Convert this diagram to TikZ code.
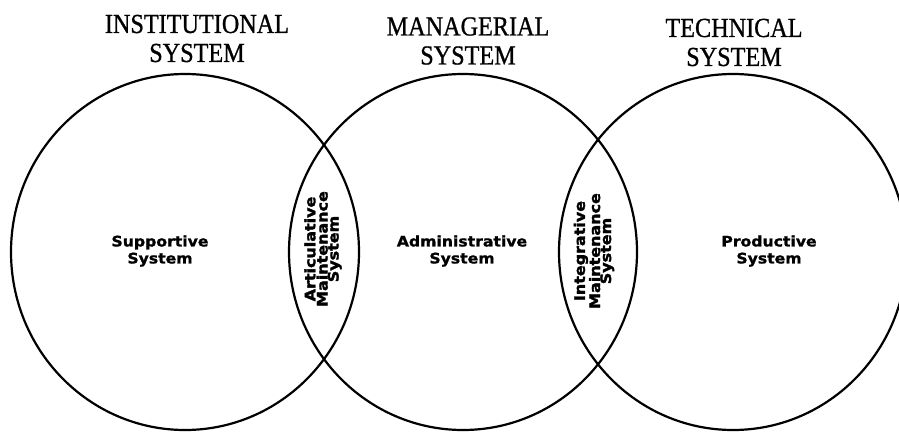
\documentclass[tikz,border=0pt]{standalone}
\usepackage{fontspec}
\setmainfont{Liberation Serif}
\newfontfamily\titlefont[FakeStretch=0.88,FakeBold=0.8]{Liberation Serif}
\newfontfamily\areafont[FakeStretch=1.08,FakeBold=1.2]{DejaVu Sans}
\newfontfamily\lensfont[FakeStretch=1.1,FakeBold=2]{DejaVu Sans}
\begin{document}
\begin{tikzpicture}
[x=1pt,y=-1pt,
ring/.style={line width=2.2pt},
title/.style={font=\titlefont\fontsize{27.5}{29}\selectfont,align=center,inner sep=0pt},
area/.style={font=\areafont\bfseries\fontsize{14.5}{17}\selectfont,align=center,inner sep=0pt},
lens/.style={font=\lensfont\bfseries\fontsize{14.5}{11}\selectfont,align=center,inner sep=0pt,rotate=90}]
\useasboundingbox (0,0) rectangle (899,434);
\foreach \x in {185,463,733}
{
	\draw[ring] (\x,252) ellipse [x radius=174,y radius=178];
}
\node[title] (inst) at (197,38.5) {INSTITUTIONAL\\SYSTEM};
\node[title] (man)  at (468,41)   {MANAGERIAL\\SYSTEM};
\node[title] (tech) at (734,42.5) {TECHNICAL\\SYSTEM};
\node[area] (supp) at (160,251) {Supportive\\System};
\node[area] (adm)  at (462,251) {Administrative\\System};
\node[area] (prod) at (769,251) {Productive\\System};
\node[lens] (art) at (323,249) {Articulative\\Maintenance\\System};
\node[lens] (int) at (594,251) {Integrative\\Maintenance\\System};
\end{tikzpicture}
\end{document}
